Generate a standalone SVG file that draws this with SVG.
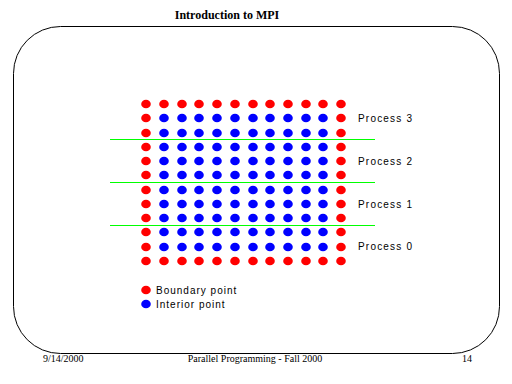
<svg xmlns="http://www.w3.org/2000/svg" width="512" height="384" viewBox="0 0 512 384">
<style>
.b{fill:#ff0000}
.i{fill:#0000ff}
.sep{stroke:#00ff00;stroke-width:1}
.lbl{font-family:"Liberation Sans",Arial,sans-serif;font-size:10px;letter-spacing:1.2px;fill:#000}
.ser{font-family:"Liberation Serif","Times New Roman",serif;fill:#000}
</style>
<defs>
<ellipse id="d" cx="0" cy="0" rx="4.8" ry="4.3"/>
<g id="row"><use href="#d" x="164" y="0"/><use href="#d" x="182" y="0"/><use href="#d" x="199" y="0"/><use href="#d" x="217" y="0"/><use href="#d" x="235" y="0"/><use href="#d" x="253" y="0"/><use href="#d" x="270" y="0"/><use href="#d" x="288" y="0"/><use href="#d" x="306" y="0"/><use href="#d" x="323" y="0"/></g>
</defs>
<rect width="512" height="384" fill="#fff"/>
<text class="ser" x="227" y="19" font-size="12" font-weight="bold" text-anchor="middle">Introduction to MPI</text>
<rect x="13.5" y="26.5" width="486" height="327" rx="47" ry="47" fill="none" stroke="#000" stroke-width="1"/>
<g id="grid">
<g class="b">
<use href="#row" y="104"/><use href="#row" y="261"/>
<use href="#d" x="146" y="104"/><use href="#d" x="146" y="118"/><use href="#d" x="146" y="133"/><use href="#d" x="146" y="147"/><use href="#d" x="146" y="161"/><use href="#d" x="146" y="175"/><use href="#d" x="146" y="190"/><use href="#d" x="146" y="204"/><use href="#d" x="146" y="218"/><use href="#d" x="146" y="232"/><use href="#d" x="146" y="247"/><use href="#d" x="146" y="261"/>
<use href="#d" x="341" y="104"/><use href="#d" x="341" y="118"/><use href="#d" x="341" y="133"/><use href="#d" x="341" y="147"/><use href="#d" x="341" y="161"/><use href="#d" x="341" y="175"/><use href="#d" x="341" y="190"/><use href="#d" x="341" y="204"/><use href="#d" x="341" y="218"/><use href="#d" x="341" y="232"/><use href="#d" x="341" y="247"/><use href="#d" x="341" y="261"/>
</g>
<g class="i">
<use href="#row" y="118"/><use href="#row" y="133"/><use href="#row" y="147"/><use href="#row" y="161"/><use href="#row" y="175"/><use href="#row" y="190"/><use href="#row" y="204"/><use href="#row" y="218"/><use href="#row" y="232"/><use href="#row" y="247"/>
</g>
</g>
<g id="separators">
<line class="sep" x1="110" y1="139.5" x2="375" y2="139.5"/>
<line class="sep" x1="110" y1="182.5" x2="375" y2="182.5"/>
<line class="sep" x1="110" y1="225.5" x2="375" y2="225.5"/>
</g>
<g id="labels">
<text class="lbl" x="358" y="122">Process 3</text>
<text class="lbl" x="358" y="165">Process 2</text>
<text class="lbl" x="358" y="208">Process 1</text>
<text class="lbl" x="358" y="250">Process 0</text>
</g>
<g id="legend">
<use href="#d" class="b" x="146" y="290"/>
<text class="lbl" x="156" y="294" style="letter-spacing:1px">Boundary point</text>
<use href="#d" class="i" x="146" y="304"/>
<text class="lbl" x="156" y="308" style="letter-spacing:1px">Interior point</text>
</g>
<g id="footer">
<text class="ser" x="43" y="362" font-size="10">9/14/2000</text>
<text class="ser" x="255" y="362" font-size="10" text-anchor="middle">Parallel Programming - Fall 2000</text>
<text class="ser" x="462" y="362" font-size="10">14</text>
</g>
</svg>
